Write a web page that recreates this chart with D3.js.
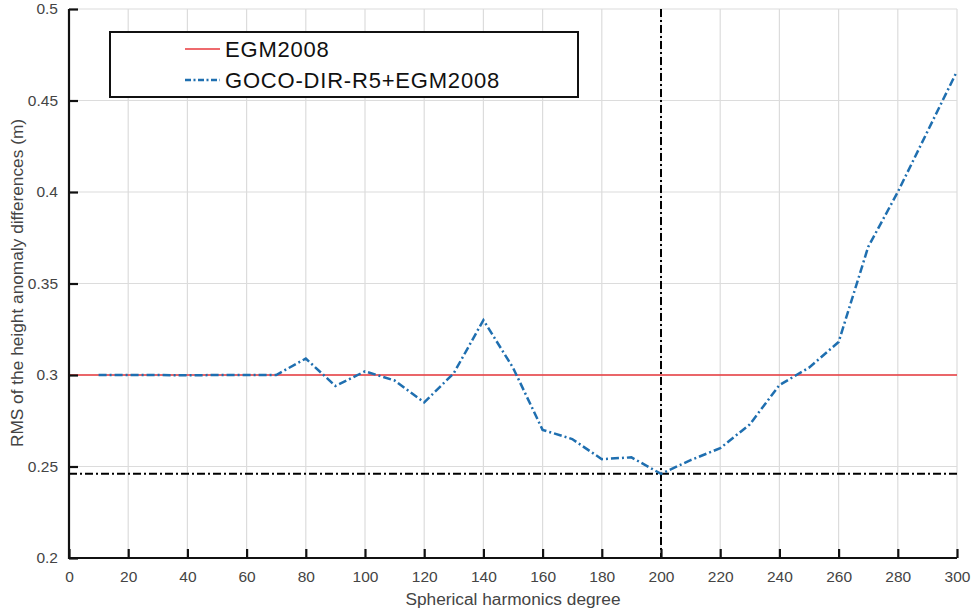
<!DOCTYPE html>
<html><head><meta charset="utf-8">
<script src="https://cdn.jsdelivr.net/npm/d3@7"></script>
<style>
body{margin:0;background:#fff;}
svg{display:block;font-family:"Liberation Sans",Arial,sans-serif;}
</style></head>
<body><svg id="c" width="973" height="612"></svg>
<script>
const degrees = [10,20,30,40,50,60,70,80,90,100,110,120,130,140,150,160,170,180,190,200,210,220,230,240,250,260,270,280,290,300];
const gocoValues = [0.300,0.300,0.300,0.2998,0.300,0.300,0.300,0.309,0.294,0.302,0.297,0.285,0.301,0.330,0.304,0.270,0.265,0.254,0.255,0.246,0.2535,0.260,0.273,0.2945,0.304,0.318,0.370,0.400,0.433,0.466];
const egmValue = 0.300;
const xTicks = [0,20,40,60,80,100,120,140,160,180,200,220,240,260,280,300];
const yTicks = [0.2,0.25,0.3,0.35,0.4,0.45,0.5];
const markDegree = 200;
const markRMS = 0.246;
const seriesNames = ["EGM2008","GOCO-DIR-R5+EGM2008"];

const svg = d3.select("#c");
const L=69, R=957, T=9, B=558;
const x = d3.scaleLinear().domain([0,300]).range([L,R]);
const y = d3.scaleLinear().domain([0.2,0.5]).range([B,T]);

// grid
const g = svg.append("g");
g.selectAll(".vg").data(xTicks.filter(d=>d>0)).join("line")
  .attr("x1",d=>x(d)).attr("x2",d=>x(d)).attr("y1",T).attr("y2",B)
  .attr("stroke","#dcdcdc").attr("stroke-width",1.2);
g.selectAll(".hg").data(yTicks.filter(d=>d>0.2)).join("line")
  .attr("x1",L).attr("x2",R).attr("y1",d=>y(d)).attr("y2",d=>y(d))
  .attr("stroke","#dcdcdc").attr("stroke-width",1.2);

// EGM line
svg.append("line").attr("x1",L).attr("x2",R).attr("y1",y(egmValue)).attr("y2",y(egmValue))
  .attr("stroke","#e8383d").attr("stroke-width",1.3);

// reference dash-dot lines
svg.append("line").attr("x1",x(markDegree)).attr("x2",x(markDegree)).attr("y1",T).attr("y2",B)
  .attr("stroke","#000").attr("stroke-width",2).attr("stroke-dasharray","8,3,2,3");
svg.append("line").attr("x1",L).attr("x2",R).attr("y1",y(markRMS)).attr("y2",y(markRMS))
  .attr("stroke","#000").attr("stroke-width",2).attr("stroke-dasharray","8,3,2,3");

// GOCO line
const line = d3.line().x((d,i)=>x(degrees[i])).y(d=>y(d));
svg.append("path").datum(gocoValues).attr("d",line).attr("fill","none")
  .attr("stroke","#1f6fb0").attr("stroke-width",2.5).attr("stroke-dasharray","8,3,2,3");

// axes
const xa = svg.append("g").attr("transform",`translate(0,${B})`)
  .call(d3.axisBottom(x).tickValues(xTicks).tickSizeInner(-9).tickSizeOuter(0).tickPadding(13).tickFormat(d3.format("d")));
const ya = svg.append("g").attr("transform",`translate(${L},0)`)
  .call(d3.axisLeft(y).tickValues(yTicks).tickSizeInner(-9).tickSizeOuter(0).tickPadding(11).tickFormat(d=>String(+d.toFixed(2))));
[xa,ya].forEach(a=>{
  a.select(".domain").attr("stroke","#111").attr("stroke-width",2.2);
  a.selectAll(".tick line").attr("stroke","#111").attr("stroke-width",2.2);
  a.selectAll(".tick text").attr("fill","#444").attr("font-size",15.5).attr("font-family","Liberation Sans, Arial, sans-serif");
});
ya.select(".domain").attr("d",`M0,${B+1}V${T}`);
xa.select(".domain").attr("d",`M${L-1},0H${R}`);

// axis labels
svg.append("text").attr("x",513).attr("y",605).attr("text-anchor","middle")
  .attr("font-size",17.3).attr("fill","#444").text("Spherical harmonics degree");
svg.append("text").attr("transform",`translate(23,283) rotate(-90)`).attr("text-anchor","middle")
  .attr("font-size",17.3).attr("fill","#444").text("RMS of the height anomaly differences (m)");

// legend
const lg = svg.append("g");
lg.append("rect").attr("x",110).attr("y",32).attr("width",468).attr("height",65)
  .attr("fill","#fff").attr("stroke","#111").attr("stroke-width",2);
const leg = [{c:"#e8383d",w:1.5,d:null},{c:"#1f6fb0",w:2.5,d:"6,2.5,2,2.5"}];
leg.forEach((s,i)=>{
  const yy = 49 + i*31;
  lg.append("line").attr("x1",185).attr("x2",220).attr("y1",yy).attr("y2",yy)
    .attr("stroke",s.c).attr("stroke-width",s.w).attr("stroke-dasharray",s.d);
  lg.append("text").attr("x",225).attr("y",yy+8).attr("font-size",22).attr("letter-spacing",0.8)
    .attr("fill","#111").text(seriesNames[i]);
});
</script></body></html>
